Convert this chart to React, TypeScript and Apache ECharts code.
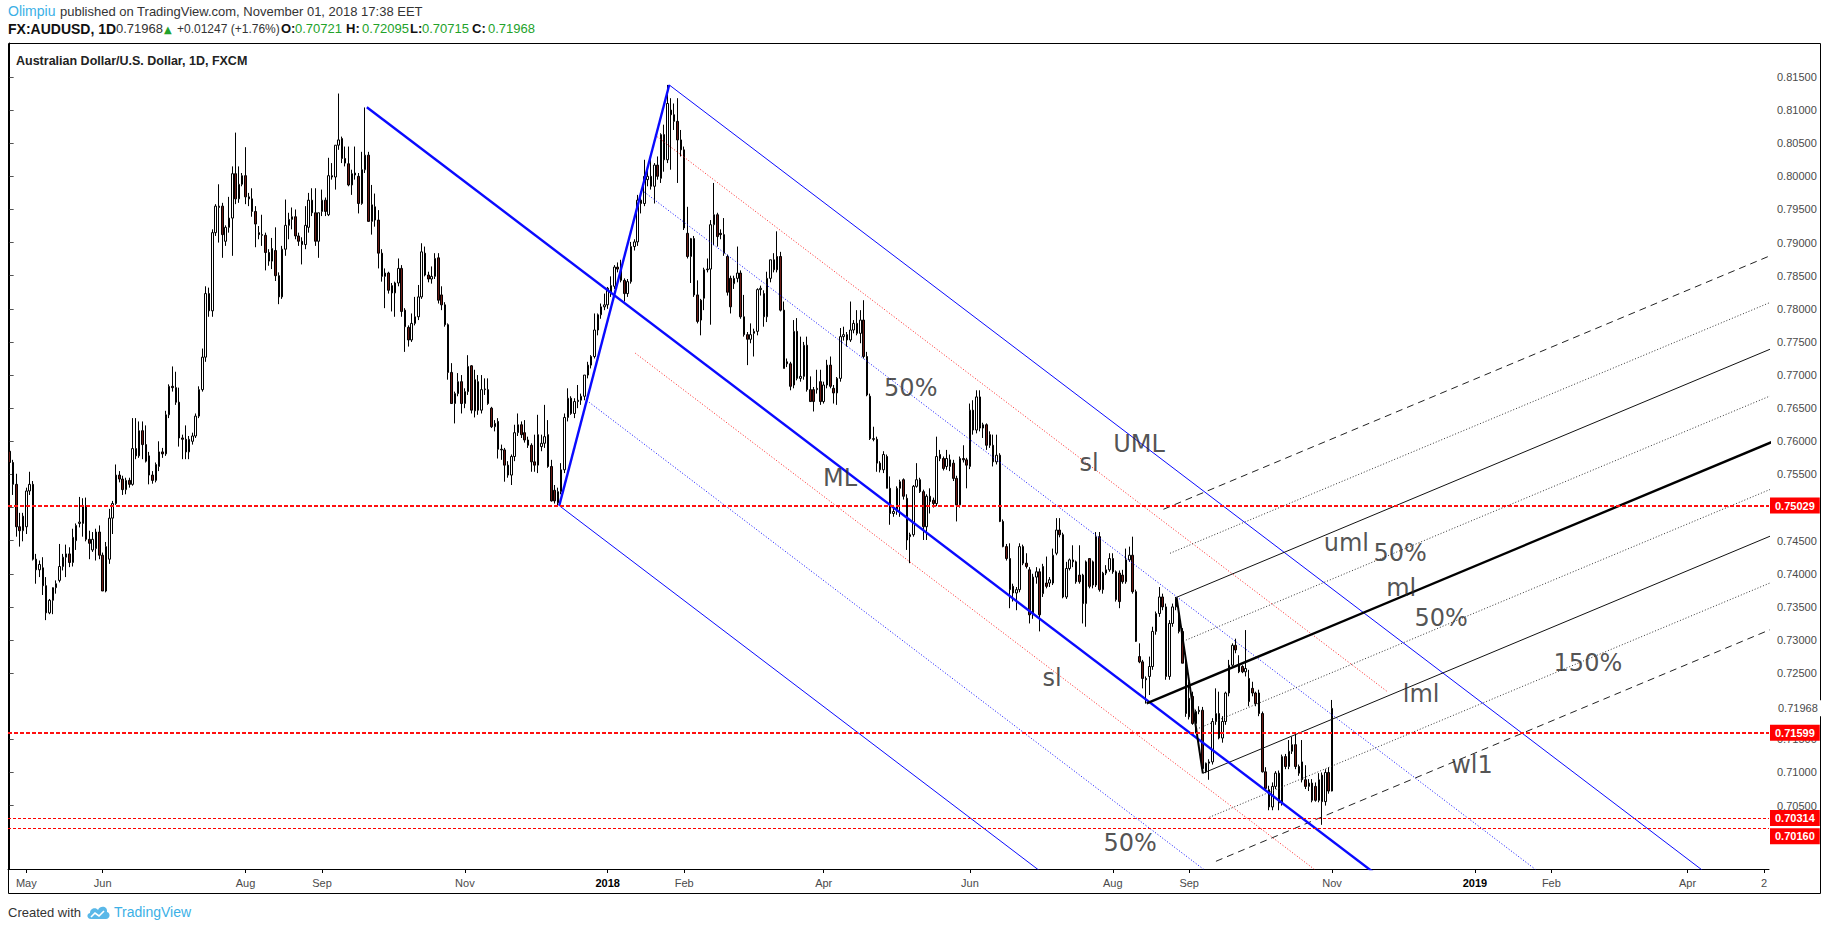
import React, { useEffect, useRef } from "react";
import * as echarts from "echarts";

// ---------- DATA (prices in pips: value / 10000) ----------
// each candle: [open, high, low, close]
const apr2017 = [[7585,7590,7565,7568],[7568,7572,7519,7535],[7535,7551,7456,7471],[7471,7492,7441,7465],[7465,7492,7449,7487]];
const may2017 = [[7471,7530,7460,7525],[7525,7554,7519,7535],[7535,7540,7420,7422],[7422,7430,7385,7406],[7406,7420,7395,7414],
[7409,7425,7368,7382],[7382,7395,7330,7341],[7341,7362,7339,7360],[7360,7375,7339,7379],[7379,7390,7370,7385],
[7390,7445,7387,7411],[7411,7430,7405,7425],[7425,7444,7395,7430],[7430,7440,7410,7417],[7417,7468,7411,7455],
[7450,7476,7436,7473],[7476,7516,7470,7478],[7476,7514,7456,7503],[7503,7515,7449,7452],[7452,7465,7422,7446],
[7436,7463,7433,7452],[7438,7468,7420,7463],[7463,7473,7422,7428]];
const jun2017 = [[7428,7432,7374,7374],[7374,7448,7372,7441],[7422,7498,7415,7484],[7484,7510,7460,7506],[7506,7565,7504,7549],
[7549,7555,7538,7543],[7543,7548,7519,7527],[7527,7545,7520,7541],[7541,7545,7530,7535],[7535,7635,7533,7589],
[7589,7635,7573,7578],[7578,7630,7575,7616],[7616,7630,7573,7595],[7595,7624,7568,7570],[7578,7584,7535,7549],
[7549,7555,7536,7541],[7541,7568,7538,7565],[7562,7600,7555,7584],[7584,7590,7575,7581],[7581,7646,7578,7640],
[7640,7686,7635,7683],[7683,7713,7675,7681]];
const jul2017 = [[7681,7705,7655,7659],[7659,7681,7592,7605],[7605,7610,7573,7603],[7603,7624,7573,7584],[7584,7608,7573,7603],
[7600,7613,7595,7608],[7608,7642,7605,7638],[7638,7683,7635,7678],[7678,7740,7675,7727],[7727,7834,7720,7823],
[7823,7832,7788,7797],[7797,7920,7788,7915],[7915,7958,7910,7955],[7953,7988,7900,7955],[7955,7960,7877,7912],
[7902,7926,7895,7923],[7923,7969,7915,7937],[7937,8015,7880,8004],[8004,8066,7958,7966],[7966,8015,7960,7988],
[7988,8005,7985,8001]];
const aug2017 = [[8001,8044,7958,7969],[7969,7975,7955,7966],[7966,7982,7939,7947],[7947,7955,7893,7928],[7915,7925,7905,7912],
[7912,7942,7895,7911],[7911,7915,7858,7885],[7885,7890,7865,7872],[7872,7907,7860,7891],[7888,7923,7842,7850],
[7850,7855,7807,7818],[7818,7895,7815,7890],[7890,7965,7880,7926],[7926,7945,7905,7935],[7935,7953,7920,7939],
[7939,7950,7905,7910],[7910,7915,7895,7902],[7902,7908,7867,7897],[7897,7955,7890,7926],[7923,7975,7915,7964],
[7964,7982,7940,7945],[7945,7982,7895,7902],[7902,7945,7877,7945]];
const sep2017 = [[7947,7980,7940,7964],[7964,7968,7940,7947],[7942,8028,7940,8001],[8001,8020,7995,7999],[7999,8047,7980,8047],
[8047,8125,8040,8055],[8057,8060,8020,8027],[8027,8045,8015,8020],[8019,8045,7985,7987],[7987,8010,7972,8004],
[8002,8045,7995,8005],[8000,8005,7944,7959],[7959,8037,7957,8010],[8010,8104,8005,8032],[8032,8037,7932,7932],
[7932,7987,7912,7957],[7954,7974,7924,7934],[7934,7949,7861,7884],[7884,7890,7841,7849],[7849,7861,7801,7854],
[7854,7856,7823,7828]];
const oct2017 = [[7835,7839,7796,7824],[7824,7841,7788,7839],[7839,7876,7834,7861],[7861,7866,7788,7796],[7798,7801,7735,7773],
[7772,7775,7743,7753],[7753,7793,7750,7778],[7778,7818,7775,7788],[7788,7836,7783,7818],[7818,7899,7815,7886],
[7884,7894,7849,7851],[7851,7856,7840,7845],[7845,7864,7838,7849],[7849,7884,7845,7876],[7877,7884,7808,7813],
[7821,7834,7798,7806],[7806,7810,7773,7776],[7776,7778,7693,7704],[7704,7718,7657,7657],[7657,7675,7627,7672],
[7672,7703,7668,7690],[7690,7700,7642,7657]];
const nov2017 = [[7657,7680,7650,7675],[7675,7730,7670,7713],[7714,7715,7642,7647],[7693,7708,7636,7646],[7690,7700,7640,7647],
[7647,7700,7642,7678],[7678,7695,7670,7679],[7678,7695,7655,7657],[7650,7652,7620,7622],[7622,7632,7615,7627],
[7630,7635,7574,7588],[7588,7595,7572,7587],[7587,7590,7539,7564],[7564,7570,7545,7549],[7549,7580,7534,7577],
[7577,7625,7570,7613],[7613,7642,7608,7625],[7625,7630,7605,7610],[7613,7632,7598,7602],[7602,7607,7590,7594],
[7594,7597,7554,7569],[7569,7610,7554,7564]];
const dec2017 = [[7564,7640,7552,7610],[7592,7610,7585,7597],[7597,7655,7590,7607],[7610,7632,7560,7562],[7562,7572,7509,7510],
[7526,7534,7506,7510],[7507,7530,7502,7524],[7524,7567,7520,7557],[7557,7642,7552,7636],[7636,7680,7630,7665],
[7665,7668,7640,7642],[7642,7665,7635,7660],[7660,7685,7650,7662],[7662,7672,7655,7668],[7668,7700,7662,7700],
[7700,7720,7695,7715],[7715,7730,7710,7728],[7728,7793,7725,7768],[7768,7793,7760,7791],[7791,7808,7785,7803],
[7803,7823,7798,7806]];
const jan2018 = [[7806,7833,7800,7831],[7823,7849,7818,7835],[7834,7866,7830,7863],[7863,7870,7855,7860],[7860,7874,7840,7843],
[7843,7846,7811,7823],[7823,7845,7818,7841],[7841,7901,7838,7894],[7894,7905,7888,7901],[7901,7972,7895,7964],
[7964,7977,7944,7959],[7959,8025,7955,8000],[7995,8010,7985,8000],[8000,8027,7980,7985],[7985,8020,7959,8017],
[8017,8030,7995,8000],[7997,8065,7990,8063],[8063,8078,8007,8025],[8025,8138,8020,8110],[8100,8118,8010,8093],
[8093,8110,8070,8083],[8083,8118,7990,8055],[8055,8070,8030,8040]];
const feb2018 = [[8040,8045,7919,7922],[7914,7954,7876,7879],[7879,7907,7839,7906],[7906,7910,7818,7821],[7821,7843,7778,7781],
[7813,7815,7760,7783],[7816,7862,7798,7859],[7859,7876,7855,7860],[7860,7934,7776,7927],[7927,7990,7896,7942],
[7942,7945,7894,7909],[7914,7920,7905,7912],[7912,7937,7880,7884],[7879,7882,7820,7825],[7846,7850,7793,7803],
[7838,7850,7830,7846],[7846,7894,7840,7854],[7854,7858,7785,7788],[7788,7821,7758,7761],[7761,7765,7715,7754]];
const mar2018 = [[7754,7778,7748,7761],[7763,7770,7728,7766],[7766,7831,7760,7829],[7829,7835,7820,7831],[7823,7828,7773,7788],
[7788,7856,7780,7846],[7846,7874,7840,7874],[7874,7884,7855,7859],[7879,7917,7855,7859],[7879,7886,7796,7798],
[7798,7811,7710,7710],[7720,7725,7712,7717],[7717,7720,7677,7683],[7685,7783,7680,7766],[7766,7786,7692,7695],
[7695,7758,7690,7698],[7698,7750,7693,7745],[7745,7758,7675,7678],[7678,7698,7660,7660],[7678,7682,7645,7660],
[7678,7708,7672,7680],[7690,7708,7655,7660]];
const apr2018 = [[7660,7690,7657,7685],[7685,7723,7680,7715],[7715,7728,7680,7683],[7680,7685,7657,7673],[7673,7697,7655,7695],
[7695,7771,7690,7758],[7758,7773,7752,7761],[7761,7765,7743,7753],[7753,7811,7750,7768],[7768,7783,7763,7778],
[7778,7798,7760,7763],[7763,7798,7748,7783],[7783,7813,7725,7728],[7728,7735,7668,7670],[7668,7672,7602,7604],
[7604,7622,7600,7603],[7603,7607,7554,7567],[7567,7570,7553,7557],[7557,7585,7552,7580],[7577,7580,7529,7529],
[7529,7547,7474,7491]];
const may2018 = [[7491,7501,7486,7494],[7494,7532,7489,7529],[7529,7542,7486,7539],[7542,7544,7512,7517],[7514,7520,7436,7451],
[7456,7462,7416,7459],[7459,7534,7456,7532],[7532,7567,7530,7542],[7542,7545,7522,7524],[7524,7527,7451,7471],
[7471,7520,7451,7517],[7517,7529,7491,7509],[7511,7515,7500,7506],[7506,7607,7502,7577],[7580,7587,7570,7574],
[7574,7577,7556,7559],[7562,7587,7557,7574],[7562,7580,7555,7572],[7567,7572,7540,7544],[7544,7548,7479,7504],
[7504,7577,7500,7574],[7574,7594,7568,7572],[7572,7575,7529,7564]];
const jun2018 = [[7562,7657,7558,7647],[7647,7662,7610,7617],[7617,7677,7612,7667],[7667,7677,7615,7620],[7620,7628,7605,7625],
[7625,7627,7587,7594],[7610,7615,7590,7594],[7594,7610,7562,7569],[7569,7610,7565,7579],[7579,7582,7478,7479],
[7479,7482,7440,7441],[7441,7445,7420,7423],[7423,7446,7348,7376],[7381,7385,7358,7371],[7371,7380,7345,7376],
[7376,7446,7372,7441],[7441,7444,7413,7416],[7416,7431,7408,7411],[7406,7410,7325,7338],[7338,7400,7332,7395],
[7395,7410,7385,7403]];
const jul2018 = [[7403,7408,7313,7338],[7370,7415,7365,7411],[7386,7426,7378,7381],[7386,7395,7380,7391],[7386,7438,7383,7428],
[7431,7484,7428,7466],[7466,7484,7455,7459],[7459,7462,7363,7365],[7365,7418,7362,7408],[7408,7423,7405,7421],
[7418,7443,7410,7421],[7418,7420,7385,7388],[7398,7443,7385,7388],[7398,7400,7325,7355],[7355,7420,7320,7418],
[7423,7423,7378,7381],[7418,7420,7378,7383],[7383,7463,7380,7456],[7456,7463,7373,7376],[7376,7403,7370,7401],
[7401,7413,7398,7406],[7406,7431,7403,7423]];
const aug2018 = [[7423,7431,7400,7403],[7403,7405,7358,7361],[7401,7405,7348,7358],[7398,7406,7385,7388],[7388,7438,7385,7421],
[7421,7441,7418,7428],[7428,7456,7370,7373],[7373,7376,7297,7298],[7275,7295,7265,7267],[7267,7270,7227,7242],
[7242,7245,7204,7240],[7245,7275,7217,7260],[7260,7320,7255,7313],[7313,7343,7308,7340],[7340,7380,7335,7365],
[7365,7370,7345,7350],[7350,7355,7240,7245],[7245,7330,7240,7325],[7325,7355,7320,7350],[7350,7365,7345,7363],
[7338,7345,7310,7313],[7313,7318,7265,7265],[7265,7270,7184,7189]];
const sep2018 = [[7212,7237,7180,7184],[7215,7222,7172,7174],[7174,7195,7159,7192],[7192,7200,7188,7194],[7194,7199,7103,7106],
[7101,7115,7099,7114],[7114,7120,7089,7116],[7116,7182,7112,7177],[7177,7227,7172,7189],[7189,7222,7150,7152],
[7152,7185,7145,7177],[7177,7222,7172,7220],[7220,7270,7215,7262],[7262,7295,7258,7292],[7292,7302,7280,7285],
[7262,7277,7250,7252],[7260,7262,7250,7252],[7252,7315,7245,7257],[7242,7255,7200,7207],[7227,7237,7215,7220]];
const oct2018 = [[7220,7222,7200,7204],[7220,7225,7185,7189],[7189,7192,7100,7101],[7101,7108,7072,7076],[7074,7080,7043,7048],
[7048,7085,7043,7079],[7079,7102,7075,7099],[7099,7103,7043,7054],[7054,7127,7050,7124],[7124,7128,7105,7109],
[7109,7149,7105,7132],[7132,7154,7128,7142],[7142,7160,7105,7109],[7109,7112,7095,7099],[7116,7149,7085,7089],
[7089,7111,7075,7079],[7079,7090,7072,7084],[7084,7090,7055,7058],[7079,7085,7056,7058],[7058,7099,7055,7089],
[7096,7100,7021,7056],[7056,7105,7050,7100],[7100,7108,7068,7072]];
const nov2018 = [[7072.1,7209.5,7071.5,7196.8]];

const firstSession = "2017-04-24";
const sessionCount = 530; // weekday bars on the time axis (incl. future space)

// time axis labels
const timeTickDates = ["2017-05-01","2017-06-01","2017-08-01","2017-09-01","2017-11-01","2018-01-01","2018-02-01","2018-04-02","2018-06-01","2018-08-01","2018-09-03","2018-11-01","2019-01-01","2019-02-01","2019-04-01","2019-05-02"];
const timeTickLabels = ["May","Jun","Aug","Sep","Nov","2018","Feb","Apr","Jun","Aug","Sep","Nov","2019","Feb","Apr","2"];

// price axis labels
const priceTicks = [0.705,0.71,0.715,0.725,0.73,0.735,0.74,0.745,0.75,0.755,0.76,0.765,0.77,0.775,0.78,0.785,0.79,0.795,0.8,0.805,0.81,0.815];
const priceMin = 0.69543;
const priceMax = 0.82013;

// horizontal levels
const redLevels = [0.75029, 0.71599];
const thinRedLevels = [0.70314, 0.7016];
const lastPrice = 0.71968;

// pitchfork pivots: [bar index, price]
const forkA = [107.5, 0.81043];
const forkB = [165.4, 0.75029];
const forkC = [198.5, 0.8138];
const slUpper = [[194.2, 0.80624], [414.6, 0.72222]];
const slLowerStart = [188.3, 0.7733];
const fork2P1 = [342.2, 0.72045];
const fork2P2 = [351.2, 0.73645];
const fork2P3 = [359.1, 0.70988];

// text annotations [text, bar index, price]
const notes: [string, number, number][] = [
  ["50%", 271.2, 0.768],
  ["ML", 249.9, 0.75446],
  ["UML", 339.9, 0.7596],
  ["sl", 324.9, 0.75673],
  ["sl", 313.7, 0.72427],
  ["50%", 337.2, 0.69936],
  ["uml", 402.3, 0.74465],
  ["50%", 418.5, 0.74314],
  ["ml", 418.8, 0.73786],
  ["50%", 430.8, 0.73333],
  ["150%", 475.0, 0.72653],
  ["lml", 424.8, 0.72186],
  ["wl1", 440.1, 0.71114],
];

// header pieces: [text, x, kind]  kind: n normal, s small, b bold, B big bold, g green, u user, t triangle
const headerLine1: [string, number, string][] = [
  ["Olimpiu", 8, "u"],
  ["published on TradingView.com, November 01, 2018 17:38 EET", 60, "n"],
];
const headerLine2: [string, number, string][] = [
  ["FX:AUDUSD, 1D", 8, "B"],
  ["0.71968", 116, "n"],
  ["▲", 164, "t"],
  ["+0.01247 (+1.76%)", 177, "s"],
  ["O:", 281, "b"],
  ["0.70721", 295, "g"],
  ["H:", 346, "b"],
  ["0.72095", 362, "g"],
  ["L:", 410, "b"],
  ["0.70715", 422, "g"],
  ["C:", 472, "b"],
  ["0.71968", 488, "g"],
];

// ---------- helpers ----------
echarts.graphic.registerShape(
  "tvcloud",
  echarts.graphic.extendPath("M5 14 C1 14 0 9 4 8 C4 3 10 2 12 5 C14 0 22 1 21 7 C25 8 24 14 20 14 Z", {})
);

function buildSessions(start: string, n: number): string[] {
  const out: string[] = [];
  const d = new Date(start + "T00:00:00Z");
  while (out.length < n) {
    const w = d.getUTCDay();
    if (w !== 0 && w !== 6) out.push(d.toISOString().slice(0, 10));
    d.setUTCDate(d.getUTCDate() + 1);
  }
  return out;
}

function ray(p: number[], slope: number, toX: number): number[][] {
  return [p, [toX, p[1] + slope * (toX - p[0])]];
}

const SANS = "Liberation Sans, Arial, sans-serif";

function headerText(pieces: [string, number, string][], top: number) {
  return pieces.map(([t, x, k]) => {
    let font = "13px " + SANS;
    let fill = "#333";
    let y = top;
    if (k === "s") { font = "12px " + SANS; y = top + 0.5; }
    if (k === "b") { font = "bold 13px " + SANS; fill = "#111"; }
    if (k === "B") { font = "bold 14px " + SANS; fill = "#111"; y = top - 0.5; }
    if (k === "g") fill = "#22a22a";
    if (k === "u") { fill = "#3bb0e6"; font = "14px " + SANS; y = top - 1; }
    if (k === "t") { font = "10px DejaVu Sans, sans-serif"; fill = "#22a22a"; y = top + 2; }
    return { type: "text", x, y, silent: true, style: { text: t, fill, font } };
  });
}

export default function App() {
  const ref = useRef<HTMLDivElement>(null);

  useEffect(() => {
    const el = ref.current;
    if (!el) return;
    const chart = echarts.init(el, null, { renderer: "svg" });

    const sessions = buildSessions(firstSession, sessionCount);
    const labelMap: Record<string, string> = {};
    timeTickDates.forEach((d, i) => (labelMap[d] = timeTickLabels[i]));

    const months = [apr2017, may2017, jun2017, jul2017, aug2017, sep2017, oct2017, nov2017, dec2017,
      jan2018, feb2018, mar2018, apr2018, may2018, jun2018, jul2018, aug2018, sep2018, oct2018, nov2018];
    const candles = ([] as number[][]).concat(...months).map((c) => [c[0] / 1e4, c[3] / 1e4, c[2] / 1e4, c[1] / 1e4]);

    // main pitchfork geometry
    const M = [(forkB[0] + forkC[0]) / 2, (forkB[1] + forkC[1]) / 2];
    const slope = (M[1] - forkA[1]) / (M[0] - forkA[0]);
    const midCM = [(forkC[0] + M[0]) / 2, (forkC[1] + M[1]) / 2];
    const midBM = [(forkB[0] + M[0]) / 2, (forkB[1] + M[1]) / 2];
    const far = 640;

    // second pitchfork geometry
    const M2 = [(fork2P2[0] + fork2P3[0]) / 2, (fork2P2[1] + fork2P3[1]) / 2];
    const slope2 = (M2[1] - fork2P1[1]) / (M2[0] - fork2P1[0]);
    const D = [fork2P2[0] - M2[0], fork2P2[1] - M2[1]];
    const far2 = 560;

    const blue = "#0a0aff";
    const seg = (name: string, data: number[][], color: string, width: number, type: any, z = 3) => ({
      type: "line",
      name,
      xAxisIndex: 1,
      yAxisIndex: 0,
      data,
      symbol: "none",
      silent: true,
      clip: true,
      z,
      lineStyle: { color, width, type, cap: "butt" },
    });

    const lines: any[] = [
      seg("ML", ray(forkA, slope, far), blue, 2.4, "solid", 4),
      seg("handle", [forkB, forkC], blue, 2.4, "solid", 4),
      seg("UML", ray(forkC, slope, far), blue, 1, "solid"),
      seg("LML", ray(forkB, slope, far), blue, 1, "solid"),
      seg("50u", ray(midCM, slope, far), blue, 1, [1, 2]),
      seg("50l", ray(midBM, slope, far), blue, 1, [1, 2]),
      seg("slU", slUpper, "#ff2020", 1, [1, 2]),
      seg("slL", ray(slLowerStart, slope, far), "#ff2020", 1, [1, 2]),
      seg("ml2", ray(fork2P1, slope2, far2), "#000", 2.4, "solid", 4),
      seg("handle2", [fork2P2, fork2P3], "#000", 2, "solid", 4),
    ];
    const levelStyle: Record<number, [number, any, string]> = {
      4: [1, [7, 5], "#222"],
      3: [1, [1, 2], "#333"],
      2: [1, "solid", "#111"],
      1: [1, [1, 2], "#333"],
    };
    [4, 3, 2, 1, -1, -2, -3, -4].forEach((k) => {
      const s = [M2[0] + (k / 2) * D[0], M2[1] + (k / 2) * D[1]];
      const st = levelStyle[Math.abs(k)];
      lines.push(seg("f2_" + k, ray(s, slope2, far2), st[2], st[0], st[1]));
    });

    const redLabel = (v: number, dy: number) => ({
      show: true,
      position: "end",
      distance: 1,
      offset: [0, dy],
      formatter: v.toFixed(5),
      backgroundColor: "#ff0000",
      color: "#ffffff",
      fontWeight: "bold",
      fontSize: 11,
      fontFamily: SANS,
      padding: [3, 5, 2, 5],
    });

    const markData: any[] = [
      ...redLevels.map((v) => ({ yAxis: v, lineStyle: { color: "#ff1010", width: 2, type: [4, 2] }, label: redLabel(v, 0) })),
      ...thinRedLevels.map((v, i) => ({ yAxis: v, lineStyle: { color: "#ff0000", width: 1, type: [3, 2] }, label: redLabel(v, i === 1 ? 8 : 0) })),
      {
        yAxis: lastPrice,
        lineStyle: { color: "rgba(255,255,255,0)", width: 1, type: "solid" },
        label: {
          show: true, position: "end", distance: 1, formatter: lastPrice.toFixed(5),
          backgroundColor: "#ffffff", color: "#4a4a4a", fontSize: 11, padding: [3, 5, 2, 8],
          fontFamily: SANS,
        },
      },
    ];

    const option: any = {
      animation: false,
      backgroundColor: "#ffffff",
      textStyle: { fontFamily: SANS },
      grid: { left: 8, right: 59, top: 43, bottom: 61, outerBoundsMode: "none", containLabel: false },
      xAxis: [
        {
          type: "category",
          data: sessions,
          boundaryGap: true,
          axisLine: { show: true, lineStyle: { color: "#000", width: 1 } },
          axisTick: {
            show: true,
            alignWithLabel: true,
            length: 4,
            interval: (_i: number, v: string) => v in labelMap,
            lineStyle: { color: "#000" },
          },
          axisLabel: {
            show: true,
            interval: (_i: number, v: string) => v in labelMap,
            formatter: (v: string) => {
              const t = labelMap[v] || "";
              return /^\d{4}$/.test(t) ? "{y|" + t + "}" : t;
            },
            color: "#4a4a4a",
            fontSize: 11,
            margin: 8,
            hideOverlap: false,
            rich: { y: { fontWeight: "bold", color: "#000", fontSize: 11 } },
          },
          splitLine: { show: false },
        },
        { type: "value", min: -0.5, max: sessionCount - 0.5, show: false, splitLine: { show: false } },
      ],
      yAxis: {
        type: "value",
        position: "right",
        min: priceMin,
        max: priceMax,
        scale: true,
        axisLine: { show: true, lineStyle: { color: "#000", width: 1 } },
        axisTick: { show: true, length: 4, customValues: priceTicks, lineStyle: { color: "#555" } },
        axisLabel: {
          show: true,
          customValues: priceTicks,
          formatter: (v: number) => v.toFixed(5),
          color: "#4a4a4a",
          fontSize: 11,
          margin: 8,
          showMinLabel: true,
          showMaxLabel: true,
        },
        splitLine: { show: false },
      },
      series: [
        {
          type: "candlestick",
          name: "AUDUSD",
          xAxisIndex: 0,
          yAxisIndex: 0,
          data: candles,
          barWidth: 2,
          z: 2,
          itemStyle: {
            color: "#ffffff",
            color0: "#6b1a14",
            borderColor: "#000000",
            borderColor0: "#000000",
            borderWidth: 1,
          },
          markLine: { silent: true, symbol: "none", precision: 5, z: 6, data: markData },
        },
        ...lines,
        {
          type: "scatter",
          name: "notes",
          xAxisIndex: 1,
          yAxisIndex: 0,
          silent: true,
          z: 7,
          symbolSize: 1,
          itemStyle: { color: "rgba(0,0,0,0)" },
          data: notes.map((n) => ({ value: [n[1], n[2]], name: n[0] })),
          label: {
            show: true,
            position: "inside",
            formatter: (p: any) => p.name,
            color: "#262626",
            fontSize: 24,
            fontFamily: "DejaVu Sans, sans-serif",
          },
        },
      ],
      graphic: [
        {
          type: "rect",
          z: 0,
          silent: true,
          shape: { x: 8.5, y: 43.5, width: 1812, height: 850 },
          style: { fill: "none", stroke: "#000", lineWidth: 1 },
        },
        ...headerText(headerLine1, 5),
        ...headerText(headerLine2, 22),
        {
          type: "text",
          x: 16,
          y: 54,
          silent: true,
          style: {
            text: "Australian Dollar/U.S. Dollar, 1D, FXCM",
            fill: "#222",
            font: "bold 12.5px " + SANS,
          },
        },
        {
          type: "text",
          x: 8,
          y: 906,
          silent: true,
          style: { text: "Created with", fill: "#333", font: "13px " + SANS },
        },
        {
          type: "tvcloud",
          x: 86,
          y: 905,
          scaleX: 1,
          scaleY: 1,
          silent: true,
          style: { fill: "#5ab8e8" },
        },
        {
          type: "polyline",
          x: 86,
          y: 905,
          silent: true,
          shape: { points: [[5, 12], [9, 8], [13, 11], [18, 6]] },
          style: { stroke: "#fff", lineWidth: 1.6, fill: "none" },
        },
        {
          type: "text",
          x: 114,
          y: 905,
          silent: true,
          style: { text: "TradingView", fill: "#3bb0e6", font: "14px " + SANS },
        },
      ],
    };

    chart.setOption(option);
    return () => chart.dispose();
  }, []);

  return (
    <div
      ref={ref}
      style={{ position: "fixed", left: 0, top: 0, width: 1828, height: 930, background: "#fff" }}
    />
  );
}
